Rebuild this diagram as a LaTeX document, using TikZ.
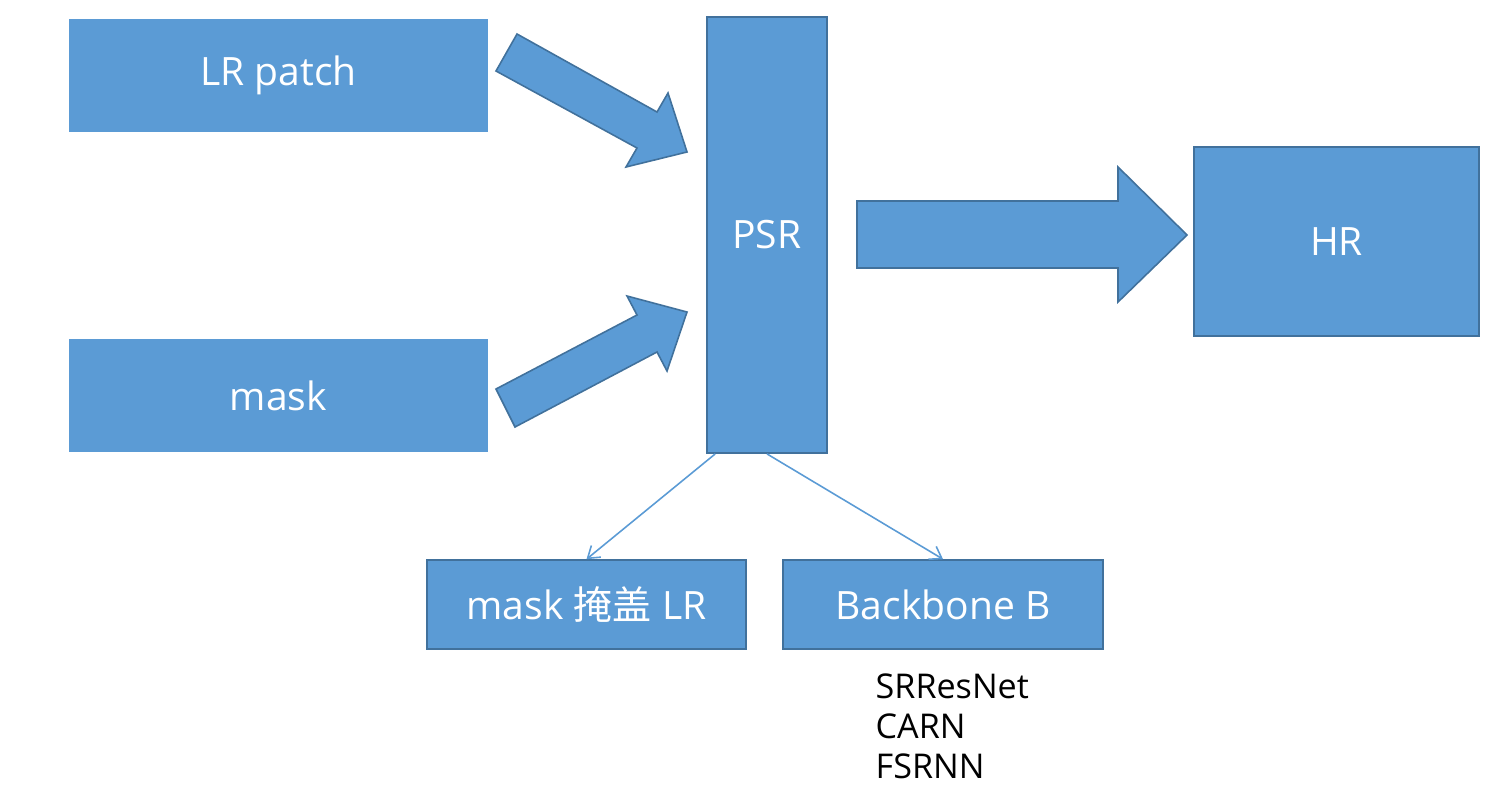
\documentclass[tikz,border=0pt]{standalone}
\usepackage{fontspec}
\setmainfont{Open Sans}
\newfontfamily\cjkfont{Noto Sans CJK SC}
\usetikzlibrary{arrows.meta}
\definecolor{boxblue}{HTML}{5B9BD5}
\definecolor{edgeblue}{HTML}{41719C}
\begin{document}
\begin{tikzpicture}
        [
          x=0.01cm, y=-0.01cm,
          block/.style={fill=boxblue, text=white, inner sep=0pt,
            font=\fontsize{11.1}{13}\selectfont},
          framed/.style={block, draw=edgeblue, line width=0.45pt},
          fatarrow/.style={fill=boxblue, draw=edgeblue, line width=0.45pt, line join=miter},
          thinarrow/.style={draw=boxblue, line width=0.45pt,
            -{Straight Barb[length=1.1mm, width=1.5mm]}}
        ]
        \useasboundingbox (0,0) rectangle (1486,797);
        % inputs
        \node [block, minimum width=4.19cm, minimum height=1.13cm] (lr) at (278.5,75.5) {LR patch};
        \node [block, minimum width=4.19cm, minimum height=1.13cm] (mask) at (278.5,395.5) {mask};
        % model
        \node [framed, minimum width=1.2cm, minimum height=4.36cm] (psr) at (767,235) {PSR};
        \node [framed, minimum width=2.85cm, minimum height=1.89cm] (hr) at (1336.5,241.5) {HR};
        % parts
        \node [framed, minimum width=3.19cm, minimum height=0.89cm] (masklr) at (586.5,604.5) {mask {\cjkfont 掩盖} LR};
        \node [framed, minimum width=3.2cm, minimum height=0.89cm] (backbone) at (943,604.5) {Backbone B};
        \node [anchor=north west, align=left, inner sep=0pt,
          font=\fontsize{9.7}{11.4}\selectfont] (nets) at (875,673) {SRResNet\\CARN\\FSRNN};
        % block arrows
        \draw [fatarrow] (517,34) -- (657,112) -- (668,93) -- (687,152) -- (626,167) -- (637,148) -- (496,71) -- cycle;
        \draw [fatarrow] (496,389) -- (637,315) -- (627,296) -- (687,312) -- (667,371) -- (657,352) -- (515,427) -- cycle;
        \draw [fatarrow] (857,201) -- (1118,201) -- (1118,167) -- (1187,235) -- (1118,302) -- (1118,268) -- (857,268) -- cycle;
        % thin arrows
        \draw [thinarrow] ([xshift=0.09cm]psr.south west) -- (masklr.north);
        \draw [thinarrow] (psr.south) -- (backbone.north);
\end{tikzpicture}
\end{document}
